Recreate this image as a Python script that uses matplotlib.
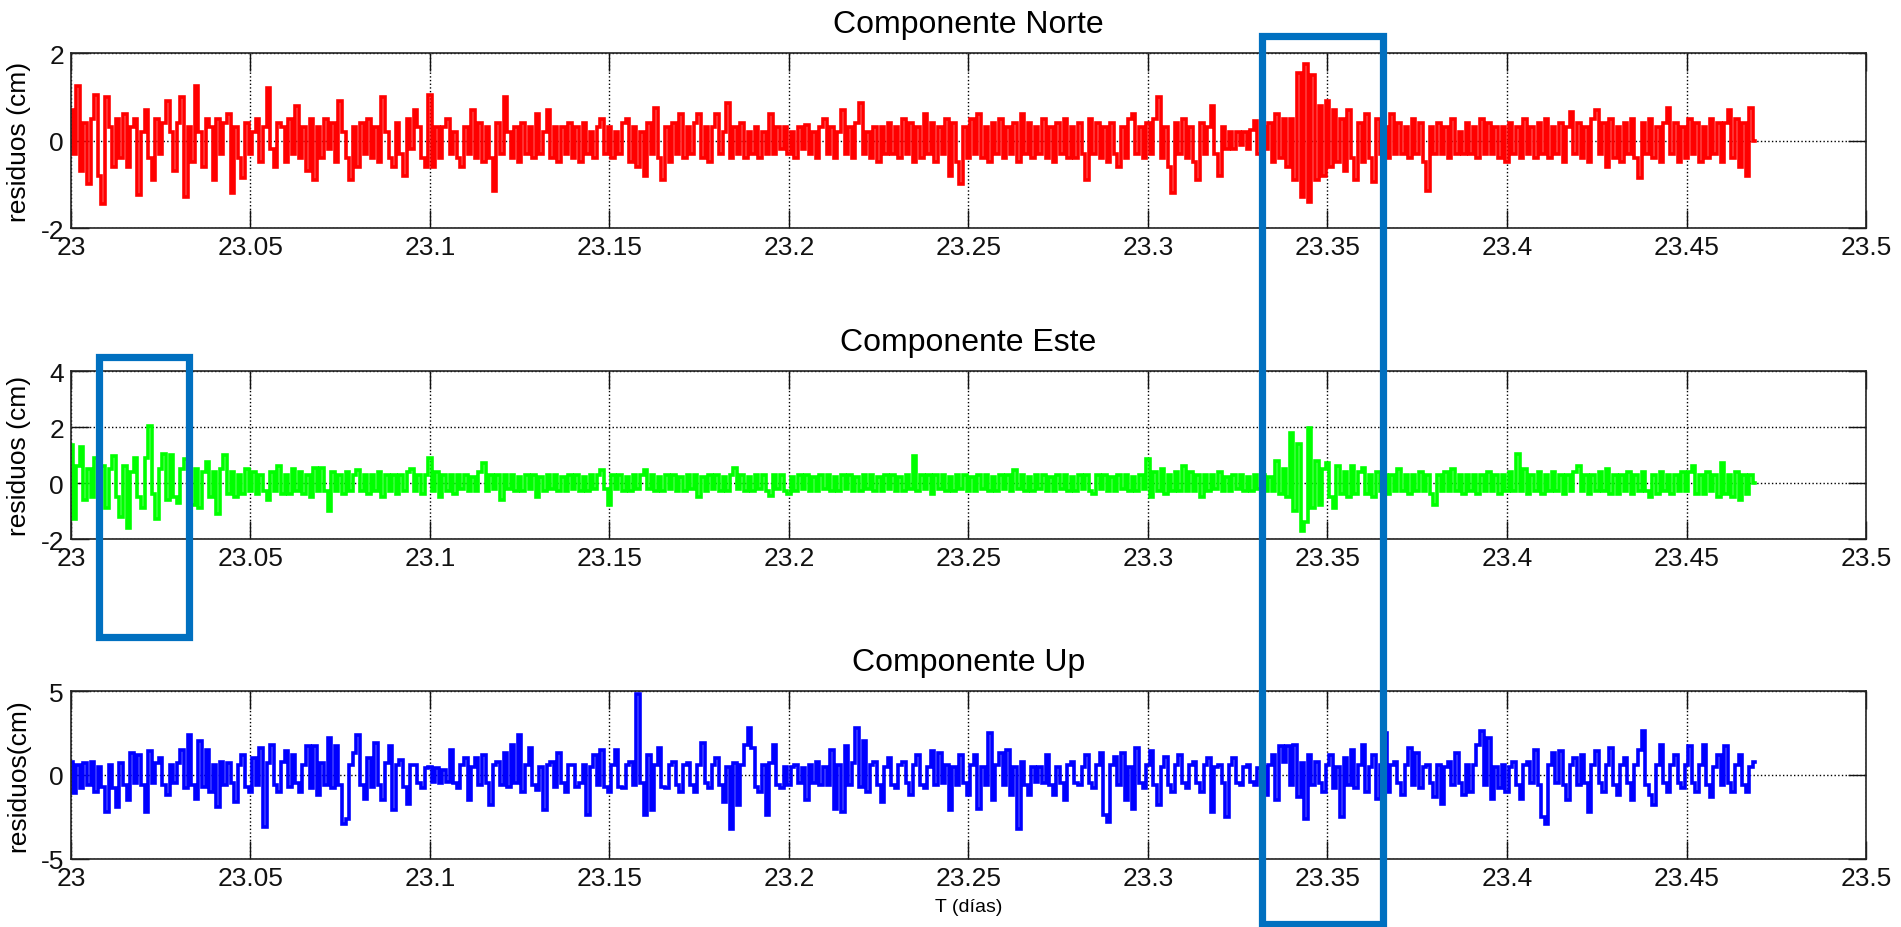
import numpy as np
import matplotlib
matplotlib.use("Agg")
import matplotlib.pyplot as plt
from matplotlib.patches import Rectangle

plt.rcParams['font.family'] = ['Liberation Sans', 'DejaVu Sans']
plt.rcParams['axes.unicode_minus'] = False

# tiempo: 23.000 .. 23.469 dias, un dato cada 0.001 dia
t0 = 23.0
dt = 0.001

norte = [
    0.7, -0.3, 1.25, -0.7, 0.4, -1.0, 0.5, 1.05, -0.8, -1.45,
    1.0, 0.3, -0.6, 0.5, -0.4, 0.6, -0.6, 0.3, 0.5, -1.25,
    0.2, 0.7, -0.4, -0.9, 0.5, -0.3, 0.4, 0.9, 0.2, -0.7,
    0.4, 1.0, -1.3, 0.3, -0.5, 1.25, 0.2, -0.6, 0.5, 0.3,
    -0.9, 0.5, -0.3, 0.4, 0.6, -1.2, 0.3, -0.4, -0.85, 0.4,
    -0.3, 0.2, 0.5, -0.5, 0.3, 1.2, -0.2, -0.6, 0.4, 0.3,
    -0.5, 0.5, -0.3, 0.8, -0.4, 0.3, -0.7, 0.5, -0.9, 0.3,
    -0.4, 0.5, -0.2, 0.4, -0.5, 0.9, 0.2, -0.4, -0.9, 0.3,
    -0.6, 0.4, -0.3, 0.5, -0.4, 0.3, -0.5, 1.0, 0.2, -0.4,
    -0.6, 0.4, -0.3, -0.8, 0.5, -0.2, 0.7, 0.3, -0.4, -0.6,
    1.05, -0.6, 0.3, -0.4, 0.3, 0.5, -0.3, 0.2, -0.4, -0.6,
    0.3, -0.3, 0.7, -0.4, 0.4, -0.5, 0.3, -0.4, -1.15, 0.4,
    -0.3, 1.0, 0.2, -0.4, 0.3, -0.5, 0.4, -0.3, 0.3, -0.4,
    0.6, -0.3, 0.2, 0.7, -0.4, 0.3, -0.5, 0.3, -0.3, 0.4,
    -0.4, 0.3, -0.5, 0.4, -0.3, 0.2, -0.4, 0.3, 0.5, -0.3,
    0.3, -0.4, 0.2, -0.3, 0.4, 0.5, -0.5, 0.3, -0.6, 0.2,
    -0.8, 0.4, -0.3, 0.75, -0.4, -0.9, 0.3, -0.5, 0.4, -0.3,
    0.6, -0.4, 0.3, -0.3, 0.4, 0.6, -0.4, 0.3, -0.5, 0.3,
    0.6, -0.3, 0.2, 0.85, -0.4, 0.3, -0.3, 0.4, -0.4, 0.2,
    -0.3, 0.3, -0.4, 0.2, -0.3, 0.6, -0.3, 0.3, -0.2, 0.3,
    -0.3, 0.2, -0.4, 0.3, -0.2, 0.35, -0.3, 0.2, -0.4, 0.3,
    0.5, -0.3, 0.3, -0.4, 0.2, 0.7, -0.3, 0.3, -0.4, 0.4,
    0.85, -0.3, 0.2, -0.4, 0.3, -0.5, 0.3, -0.3, 0.4, -0.3,
    0.3, -0.4, 0.5, -0.3, 0.4, -0.5, 0.3, -0.4, 0.6, -0.3,
    0.4, -0.5, 0.3, -0.3, 0.5, -0.8, 0.4, -0.5, -1.0, 0.3,
    -0.4, 0.5, -0.3, 0.6, -0.4, 0.3, -0.5, 0.4, -0.3, 0.5,
    -0.4, 0.3, -0.3, 0.4, -0.5, 0.6, -0.3, 0.4, -0.4, 0.3,
    -0.3, 0.5, -0.4, 0.3, -0.5, 0.4, -0.3, 0.5, -0.4, 0.3,
    -0.4, 0.4, -0.3, -0.9, 0.5, -0.3, 0.4, -0.4, 0.3, -0.5,
    0.4, -0.3, -0.6, 0.3, -0.4, 0.5, 0.6, -0.3, 0.3, -0.4,
    0.4, -0.3, 0.5, 1.0, -0.4, 0.3, -0.6, -1.2, 0.4, -0.3,
    0.5, -0.4, 0.3, -0.5, -0.9, 0.4, -0.3, 0.3, 0.8, -0.3,
    -0.8, 0.3, -0.2, 0.2, -0.2, 0.2, -0.1, 0.2, -0.2, 0.25,
    0.45, -0.3, 0.3, -0.2, 0.4, -0.5, 0.6, -0.4, 0.5, -0.6,
    0.5, -0.9, 1.55, -1.3, 1.75, -1.4, 1.5, -0.9, 0.8, -0.8,
    0.9, -0.6, 0.7, -0.5, 0.5, -0.7, 0.7, -0.4, -0.9, 0.4,
    -0.5, 0.6, -0.4, -0.95, 0.5, -0.3, 0.3, -0.4, 0.6, -0.3,
    0.4, -0.3, 0.3, -0.4, 0.5, -0.3, 0.4, -0.5, -1.15, 0.3,
    -0.3, 0.4, -0.3, 0.3, -0.4, 0.5, -0.3, 0.2, -0.3, 0.4,
    -0.3, 0.3, -0.4, 0.5, -0.3, 0.4, -0.3, 0.3, -0.4, 0.3,
    -0.5, 0.4, -0.3, 0.3, -0.4, 0.5, -0.3, 0.3, -0.4, 0.4,
    -0.3, 0.5, -0.4, 0.3, -0.3, 0.4, -0.5, 0.3, 0.65, -0.3,
    0.4, -0.4, 0.3, -0.5, 0.5, 0.7, -0.3, 0.4, -0.6, 0.5,
    -0.4, 0.3, -0.5, 0.4, -0.3, 0.5, -0.4, -0.85, 0.4, -0.3,
    0.5, -0.4, 0.3, -0.5, 0.4, 0.75, -0.3, 0.4, -0.5, 0.3,
    -0.4, 0.5, -0.3, 0.4, -0.5, 0.3, -0.4, 0.5, -0.3, 0.4,
    -0.5, 0.4, 0.7, -0.4, 0.5, -0.6, 0.4, -0.8, 0.75, 0.0,
]

este = [
    1.35, -1.3, 0.6, 1.3, -0.6, 0.5, -0.5, 0.9, -0.4, 0.6,
    -0.9, 0.5, 0.95, -0.5, -1.2, 0.6, -1.6, 0.4, 0.9, -0.5,
    -0.9, 0.9, 2.05, -0.4, -1.3, 0.5, 1.05, -0.6, 1.0, -0.5,
    -0.7, 0.5, 0.85, -0.4, -0.8, 0.5, -0.9, 0.4, 0.75, -0.5,
    0.4, -1.1, 0.5, 1.0, -0.4, 0.4, -0.5, 0.3, -0.4, 0.5,
    -0.3, 0.4, -0.4, 0.3, -0.3, -0.6, 0.4, -0.3, 0.6, -0.4,
    0.3, -0.4, 0.5, -0.3, 0.4, -0.4, 0.3, -0.5, 0.55, -0.3,
    0.55, -0.3, -1.0, 0.4, -0.3, 0.3, -0.4, 0.4, -0.3, 0.3,
    0.45, -0.3, 0.3, -0.4, 0.3, -0.3, 0.4, -0.5, 0.3, -0.3,
    0.3, -0.4, 0.3, -0.3, 0.4, 0.5, -0.3, 0.3, -0.4, 0.3,
    0.9, -0.3, 0.4, -0.5, 0.3, -0.3, 0.3, -0.4, 0.3, -0.2,
    0.3, -0.3, 0.2, -0.3, 0.4, 0.7, -0.3, 0.3, -0.2, 0.3,
    -0.6, 0.3, -0.2, 0.3, -0.3, 0.2, -0.3, 0.3, -0.2, 0.3,
    -0.5, 0.2, -0.3, 0.3, -0.2, 0.3, -0.3, 0.2, -0.3, 0.3,
    -0.2, 0.3, -0.3, 0.2, -0.3, 0.3, -0.2, 0.3, 0.45, -0.2,
    -0.8, 0.3, -0.2, 0.3, -0.3, 0.2, -0.3, 0.3, -0.2, 0.3,
    0.45, -0.2, 0.3, -0.3, 0.2, -0.3, 0.3, -0.2, 0.3, -0.3,
    0.2, -0.3, 0.3, -0.2, 0.3, -0.5, 0.2, -0.3, 0.3, -0.2,
    0.3, -0.3, 0.2, -0.3, 0.3, 0.55, -0.2, 0.3, -0.3, 0.2,
    -0.3, 0.3, -0.2, 0.3, -0.3, -0.45, 0.3, -0.2, 0.3, -0.3,
    -0.4, 0.2, -0.3, 0.3, -0.2, 0.3, -0.3, 0.2, -0.3, 0.3,
    -0.2, 0.3, -0.3, 0.2, -0.3, 0.3, -0.2, 0.3, -0.3, 0.2,
    -0.3, 0.3, -0.2, 0.3, -0.3, 0.2, -0.3, 0.3, -0.2, 0.3,
    -0.3, 0.2, -0.3, 0.3, -0.2, 0.95, -0.3, 0.3, -0.2, 0.3,
    -0.4, 0.3, -0.2, 0.3, -0.3, 0.2, -0.3, 0.3, -0.2, 0.3,
    -0.3, 0.2, -0.3, 0.3, -0.2, 0.3, -0.3, 0.2, -0.3, 0.3,
    -0.2, 0.3, -0.3, 0.45, -0.2, 0.3, -0.3, 0.2, -0.3, 0.3,
    -0.2, 0.3, -0.3, 0.2, -0.3, 0.3, -0.2, 0.3, -0.3, 0.2,
    -0.3, 0.3, -0.2, 0.3, -0.3, -0.4, 0.3, -0.2, 0.3, -0.3,
    0.2, -0.3, 0.3, -0.2, 0.3, -0.3, 0.2, -0.3, 0.3, -0.2,
    0.85, -0.5, 0.4, -0.3, 0.5, -0.4, 0.3, -0.3, 0.4, -0.3,
    0.6, -0.3, 0.4, -0.3, 0.3, -0.5, 0.3, -0.3, 0.3, -0.2,
    0.4, -0.3, 0.2, -0.3, 0.3, -0.2, 0.3, -0.3, 0.2, -0.3,
    0.3, -0.2, 0.3, -0.3, 0.2, -0.3, 0.8, -0.4, 0.5, -0.5,
    1.8, -1.0, 1.4, -1.7, -1.4, 1.95, -0.9, 0.8, -0.8, 0.5,
    0.7, -0.5, -0.9, 0.6, -0.4, 0.4, -0.5, 0.6, -0.4, 0.4,
    0.55, -0.4, 0.3, -0.5, 0.4, -0.3, 0.3, -0.4, 0.3, -0.3,
    0.5, -0.3, 0.3, -0.4, 0.3, -0.3, 0.4, -0.3, 0.3, -0.4,
    -0.8, 0.3, -0.3, 0.4, -0.3, 0.5, -0.3, 0.3, -0.4, 0.3,
    -0.3, 0.3, -0.4, 0.3, -0.3, 0.4, -0.3, 0.3, -0.4, 0.3,
    -0.3, 0.4, -0.3, 1.05, -0.3, 0.5, -0.4, 0.3, -0.3, 0.4,
    -0.4, 0.3, -0.3, 0.4, -0.3, 0.3, -0.4, 0.3, -0.3, 0.4,
    0.6, -0.3, 0.3, -0.4, 0.3, -0.3, 0.4, -0.3, 0.5, -0.4,
    0.3, -0.4, 0.3, -0.3, 0.4, -0.4, 0.3, -0.3, 0.4, -0.3,
    -0.5, 0.3, -0.4, 0.4, -0.3, 0.3, -0.4, 0.3, -0.3, 0.4,
    -0.3, 0.4, 0.6, -0.4, 0.3, -0.4, 0.4, -0.3, 0.3, -0.5,
    0.7, -0.4, 0.3, -0.5, 0.4, -0.6, 0.3, -0.4, 0.3, 0.0,
]

up = [
    0.8, -1.1, 0.6, -0.8, 0.7, -0.6, 0.8, -1.0, 0.5, -0.7,
    -2.2, 0.6, -0.8, -1.9, 0.7, -0.6, -1.5, 1.3, -0.5, 1.2,
    -0.6, -2.2, 1.4, -0.5, 0.7, 1.0, -0.6, -1.2, 0.6, -0.5,
    0.7, 1.5, -0.8, 2.4, -0.6, -1.4, 2.0, -0.7, 1.5, -1.0,
    0.6, -1.9, 0.8, -0.6, 0.7, -0.5, -1.6, 0.6, 1.2, -0.7,
    -1.0, 1.0, -0.6, 1.6, -3.1, 0.7, 1.8, -0.6, -1.0, 0.8,
    1.4, -0.7, 1.2, -0.5, -1.0, 0.6, 1.7, -0.8, 1.7, -1.2,
    0.7, -0.6, 2.2, -0.8, 1.7, -0.6, -2.9, -2.6, 0.6, 1.3,
    2.4, -0.6, -1.4, 1.0, -0.7, 1.9, -0.6, -1.5, 0.7, 1.7,
    -2.1, 0.6, 0.9, -0.7, -1.7, 0.6, 0.6, -0.5, -0.8, 0.4,
    0.5, -0.4, 0.4, -0.5, 0.3, -0.4, 1.5, -0.5, -0.8, 0.6,
    1.0, -1.5, 0.5, 1.0, -0.6, 1.2, -0.5, -1.8, 0.6, 0.8,
    -0.6, 1.3, -0.7, 1.8, -0.5, 2.4, -1.0, 0.6, 1.6, -0.6,
    -0.9, 0.5, -2.1, 0.6, 0.8, -0.7, 1.3, -0.5, -1.0, 0.6,
    0.6, -0.7, -0.5, 0.6, -2.4, 0.5, 1.2, -0.6, 1.5, -0.7,
    -1.0, 0.6, 1.5, -0.7, -0.8, 0.6, 0.8, -0.6, 4.8, -0.5,
    -2.4, 1.2, -2.1, 0.6, 1.6, -0.7, -0.8, 0.6, 0.8, -0.6,
    -1.0, 0.6, 0.7, -0.6, -1.0, 0.6, 1.9, -0.5, -0.8, 0.6,
    1.0, -0.6, -1.6, 0.5, -3.2, 0.7, -1.8, 0.6, 1.8, 2.8,
    1.6, -0.7, -1.0, 0.6, -2.4, 0.7, 1.8, -0.6, -0.8, 0.5,
    -0.6, 0.5, 0.6, -0.5, 0.4, -1.5, 0.6, -0.5, 0.8, -0.6,
    0.5, -0.6, 1.5, -2.0, 0.6, -2.2, 1.7, -0.6, 0.7, 2.8,
    -0.7, 2.0, -1.0, 0.6, 0.8, -0.6, -1.6, 0.5, 1.0, -0.6,
    -0.8, 0.6, 0.8, -0.5, -1.2, 0.6, 1.2, -0.6, -0.8, 0.5,
    1.4, -0.6, 1.3, -0.5, 0.6, -2.1, 0.5, -0.6, 1.2, -0.5,
    -1.2, 0.6, 1.2, -2.0, 0.5, -0.6, 2.5, -1.5, 0.6, 1.3,
    -0.6, 1.5, -1.2, 0.5, -3.2, 0.8, -0.6, -1.2, 0.5, -0.4,
    0.5, -0.5, 1.2, -0.6, -1.2, 0.5, -0.5, -1.5, 0.6, 0.8,
    -0.5, -0.6, 0.5, 1.2, -0.5, -0.8, 0.6, 1.3, -2.4, -2.8,
    0.6, 1.1, -0.6, 1.3, -1.5, 0.5, -2.0, 1.6, -0.5, -0.8,
    0.6, 1.4, -0.6, -1.8, 0.5, 1.1, -0.6, -1.0, 0.6, 1.2,
    -0.5, -0.8, 0.6, 0.8, -0.5, -1.0, 0.6, 1.0, -2.2, 0.5,
    0.6, -0.5, -2.5, 0.6, 1.0, -0.5, -0.6, 0.5, 0.6, -0.4,
    -0.6, 0.4, 0.5, -1.2, 0.6, 1.2, -1.5, 1.7, 0.8, 1.7,
    -0.6, 1.8, -1.3, 0.7, -2.6, 1.2, -0.6, 0.8, -0.5, -1.0,
    0.6, 1.2, -0.8, 0.5, -2.5, 1.0, -0.6, 1.5, -0.8, 0.6,
    1.8, -1.0, 0.5, 1.2, -1.4, 0.6, 2.5, -1.0, 0.6, 0.8,
    -0.5, -1.2, 0.6, 1.6, -0.6, 1.3, -0.8, 0.5, 0.6, -0.5,
    -1.3, 0.6, -1.7, 0.5, 0.8, -0.6, 1.3, -0.5, -1.2, 0.6,
    -1.0, 0.6, 1.8, 2.6, -0.6, 2.2, -1.4, 0.5, -0.8, 0.6,
    -1.0, 0.5, 0.8, -0.6, -1.4, 0.6, 0.8, -0.5, 1.5, -0.6,
    -2.5, -2.9, 0.6, 1.3, -0.5, 1.4, -0.6, -1.5, 0.6, 1.0,
    -0.6, 1.2, -0.5, -2.2, 0.6, 1.4, -0.5, -1.0, 0.6, 1.6,
    -0.6, -1.2, 0.6, 1.0, -0.5, -1.5, 0.6, 1.5, 2.6, -0.6,
    -1.2, -1.8, 0.6, 1.8, -0.5, -1.0, 0.6, 1.2, -0.5, -0.8,
    0.6, 1.7, -0.5, -1.0, 0.6, 1.8, -0.6, -1.3, 0.5, 1.2,
    -0.6, 1.7, -0.5, -1.0, 0.6, 1.2, -0.6, -1.0, 0.5, 0.8,
]

titulos = ['Componente Norte', 'Componente Este', 'Componente Up']
ylabels = ['residuos (cm)', 'residuos (cm)', 'residuos(cm)']
colores = ['#ff0000', '#00ff00', '#0000ff']
ylims = [(-2, 2), (-2, 4), (-5, 5)]
yticks = [[-2, 0, 2], [-2, 0, 2, 4], [-5, 0, 5]]
xticks = [23, 23.05, 23.1, 23.15, 23.2, 23.25, 23.3, 23.35, 23.4, 23.45, 23.5]
xticklabels = ['23', '23.05', '23.1', '23.15', '23.2', '23.25', '23.3',
               '23.35', '23.4', '23.45', '23.5']

fig = plt.figure(figsize=(19.01, 9.28), dpi=100)
# posiciones de los ejes (fraccion de figura)
pos = [[0.0373, 0.7532, 0.9443, 0.1886],
       [0.0373, 0.4181, 0.9443, 0.1810],
       [0.0373, 0.0733, 0.9443, 0.1810]]

series = [norte, este, up]
for k in range(3):
    ax = fig.add_axes(pos[k])
    y = np.array(series[k])
    t = t0 + dt * np.arange(len(y))
    ax.plot(t, y, color=colores[k], linewidth=2.6, drawstyle='steps-mid',
            solid_joinstyle='miter')
    ax.set_xlim(23, 23.5)
    ax.set_ylim(*ylims[k])
    ax.set_xticks(xticks)
    ax.set_xticklabels(xticklabels)
    ax.set_yticks(yticks[k])
    ax.set_axisbelow(True)
    ax.grid(True, linestyle=':', color='k', linewidth=1.0)
    ax.tick_params(direction='in', length=13, width=1, top=True, right=True,
                   labelsize=19, pad=5, colors='#111111')
    for s in ax.spines.values():
        s.set_linewidth(1.2)
        s.set_color('#222222')
    ax.set_title(titulos[k], fontsize=23, pad=15)
    ax.set_ylabel(ylabels[k], fontsize=19)
    ax.yaxis.set_label_coords(-0.0225, 0.5)
    if k == 2:
        ax.set_xlabel('T (días)', fontsize=14, labelpad=6)

# recuadros azules de anotacion
azul = '#0070c0'
fig.patches.append(Rectangle((0.6641, 0.0032), 0.0634, 0.9569, transform=fig.transFigure,
                             fill=False, edgecolor=azul, linewidth=5.2, zorder=10))
fig.patches.append(Rectangle((0.0521, 0.3125), 0.0473, 0.3017, transform=fig.transFigure,
                             fill=False, edgecolor=azul, linewidth=5.2, zorder=10))

fig.savefig('out.png', dpi=100)
